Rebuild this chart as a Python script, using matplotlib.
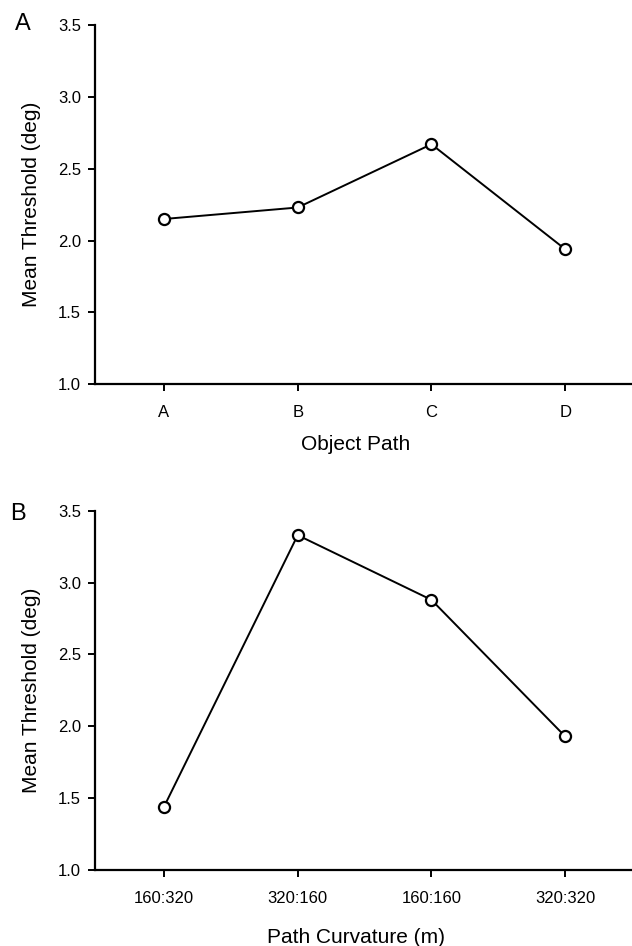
import numpy as np
import matplotlib.pyplot as plt

plt.rcParams['font.family'] = ['Liberation Sans', 'DejaVu Sans']

# panel A: threshold by object path
paths = ['A', 'B', 'C', 'D']
path_thresh = [2.15, 2.23, 2.67, 1.94]

# panel B: threshold by path curvature
curvatures = ['160:320', '320:160', '160:160', '320:320']
curv_thresh = [1.44, 3.33, 2.88, 1.93]

yticks = [1.0, 1.5, 2.0, 2.5, 3.0, 3.5]

fig = plt.figure(figsize=(6.32, 9.46), dpi=100)
ax_a = fig.add_axes([0.1503, 0.5938, 0.8497, 0.3798])
ax_b = fig.add_axes([0.1503, 0.0803, 0.8497, 0.3798])


def style(ax, cats, vals, xlabel, xlabel_y):
    x = np.arange(len(cats))
    ax.plot(x, vals, color='black', lw=1.4, marker='o', ms=8,
            mfc='white', mec='black', mew=1.6)
    ax.set_xlim(-0.516, 3.5)
    ax.set_ylim(1.0, 3.5)
    ax.set_xticks(x)
    ax.set_xticklabels(cats)
    ax.set_yticks(yticks)
    ax.set_yticklabels(['%.1f' % v for v in yticks])
    for s in ['top', 'right']:
        ax.spines[s].set_visible(False)
    for s in ['left', 'bottom']:
        ax.spines[s].set_linewidth(1.6)
    ax.tick_params(axis='both', direction='out', length=5, width=1.4,
                   labelsize=12, color='black')
    ax.tick_params(axis='x', pad=10)
    ax.tick_params(axis='y', pad=5)
    ax.set_ylabel('Mean Threshold (deg)', fontsize=15)
    ax.yaxis.set_label_coords(-0.1, 0.5)
    ax.set_xlabel(xlabel, fontsize=15, va='top')
    ax.xaxis.set_label_coords(0.486, xlabel_y)


style(ax_a, paths, path_thresh, 'Object Path', -0.141)
style(ax_b, curvatures, curv_thresh, 'Path Curvature (m)', -0.161)

fig.text(15 / 632, 1 - 13 / 946, 'A', fontsize=17, ha='left', va='top')
fig.text(10 / 632, 1 - 503 / 946, 'B', fontsize=17, ha='left', va='top')

fig.savefig('out.png', dpi=100)
